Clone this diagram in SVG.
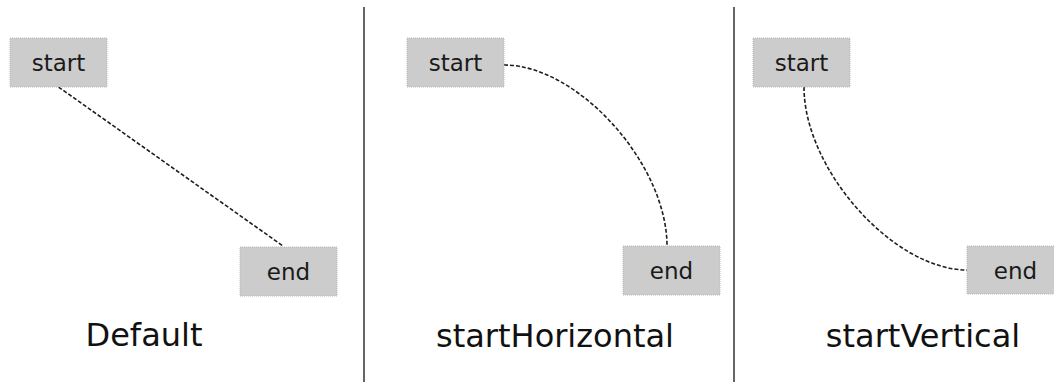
<svg xmlns="http://www.w3.org/2000/svg" width="1054" height="382" viewBox="0 0 1054 382">
<style>
.box{fill:#cccccc;stroke:#b8b8b8;stroke-width:1;stroke-dasharray:1,1}
.nt{font-family:"DejaVu Sans",Verdana,sans-serif;font-size:23px;fill:#1a1a1a;text-anchor:middle}
.lbl{font-family:"DejaVu Sans",Verdana,sans-serif;font-size:32px;fill:#111;text-anchor:middle}
.edge{fill:none;stroke:#1e1e1e;stroke-width:1.6;stroke-dasharray:4,2}
.div{stroke:#333;stroke-width:1.5}
</style>
<rect width="1054" height="382" fill="#ffffff"/>
<g id="dividers">
<line class="div" x1="364" y1="7" x2="364" y2="382"/>
<line class="div" x1="734" y1="7" x2="734" y2="382"/>
</g>
<g id="connectors">
<line class="edge" x1="58.5" y1="87" x2="283" y2="246"/>
<path class="edge" d="M504,65 C578,65 667,164 667,246"/>
<path class="edge" d="M804,87 C804,170 894,270 967,270"/>
</g>
<g id="p1-start"><rect class="box" x="10" y="38" width="97" height="49"/><text class="nt" x="58.5" y="71">start</text></g>
<g id="p1-end"><rect class="box" x="240" y="247" width="97" height="49"/><text class="nt" x="288.5" y="280">end</text></g>
<g id="p2-start"><rect class="box" x="407" y="38" width="97" height="49"/><text class="nt" x="455.5" y="71">start</text></g>
<g id="p2-end"><rect class="box" x="623" y="246" width="97" height="49"/><text class="nt" x="671.5" y="279">end</text></g>
<g id="p3-start"><rect class="box" x="753" y="38" width="97" height="49"/><text class="nt" x="801.5" y="71">start</text></g>
<g id="p3-end"><rect class="box" x="967" y="246" width="97" height="48"/><text class="nt" x="1015.5" y="279">end</text></g>
<g id="labels">
<text class="lbl" x="144" y="346">Default</text>
<text class="lbl" x="555" y="347">startHorizontal</text>
<text class="lbl" x="923" y="347">startVertical</text>
</g>
</svg>
